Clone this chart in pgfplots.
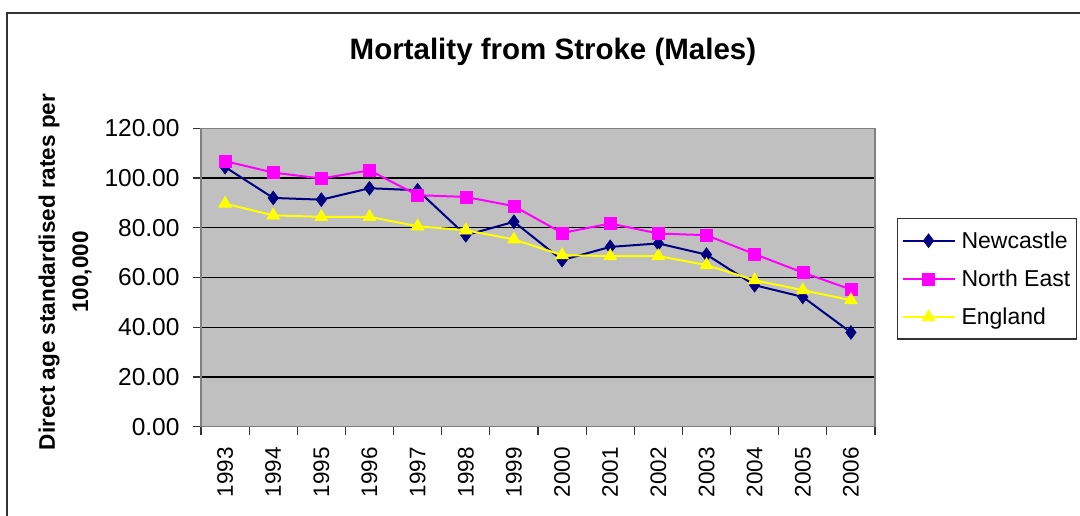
\documentclass[border=0pt]{standalone}
\usepackage{fontspec}
\setmainfont{Liberation Sans}
\usepackage{pgfplots}
\pgfplotsset{compat=1.18}
\definecolor{navyc}{HTML}{000080}
\definecolor{magc}{HTML}{FF00FF}
\definecolor{yelc}{HTML}{FFFF00}
\definecolor{bggray}{HTML}{C0C0C0}
\definecolor{axgray}{HTML}{808080}
\begin{document}
\begin{tikzpicture}[x=1pt,y=1pt]
\useasboundingbox (0,0) rectangle (1080,515);
\draw[line width=2pt, black!80] (7,-10) -- (7,502) -- (1100,502);
\node[font=\bfseries\fontsize{29.5}{34}\selectfont] at (553,463) {Mortality from Stroke (Males)};
\node[rotate=90, font=\bfseries\fontsize{22.5}{27}\selectfont] at (49,243) {Direct age standardised rates per};
\node[rotate=90, font=\bfseries\fontsize{22.5}{27}\selectfont] at (82,243) {100,000};
\begin{axis}[
  at={(201pt,88.3pt)}, anchor=south west, scale only axis,
  width=674pt, height=298.4pt,
  xmin=-0.5, xmax=13.5, ymin=0, ymax=120,
  axis background/.style={fill=bggray},
  axis line style={draw=axgray, line width=1.5pt},
  tick align=outside, tick pos=left, major tick length=8pt,
  tick style={black!80, line width=1.2pt},
  ytick={0,20,...,120},
  ymajorgrids, major grid style={black, line width=1.2pt},
  yticklabel shift=10pt,
  yticklabel style={font=\fontsize{24.5}{28}\selectfont, /pgf/number format/.cd, fixed, fixed zerofill, precision=2, assume math mode=true},
  xtick={0,1,2,3,4,5,6,7,8,9,10,11,12,13},
  xticklabels={1993,1994,1995,1996,1997,1998,1999,2000,2001,2002,2003,2004,2005,2006},
  xtick style={draw=none},
  xticklabel shift=9pt,
  xticklabel style={rotate=90, anchor=east, font=\fontsize{22.5}{26}\selectfont},
  extra x ticks={-0.5,0.5,1.5,2.5,3.5,4.5,5.5,6.5,7.5,8.5,9.5,10.5,11.5,12.5,13.5},
  extra x tick labels={{},{},{},{},{},{},{},{},{},{},{},{},{},{},{}},
  extra x tick style={xtick style={draw=black!80, line width=1.2pt}},
  legend style={at={(1.0326,0.6994)}, anchor=north west, draw=black!80, line width=1.2pt, fill=white,
    font=\fontsize{23}{27}\selectfont, row sep=16pt, column sep=4pt, inner xsep=4pt, inner ysep=11pt},
  legend cell align=left,
  legend image code/.code={\draw[#1, mark repeat=2, mark phase=2] plot coordinates {(0pt,0pt) (26pt,0pt) (52pt,0pt)};},
]
\addplot[color=navyc, line width=2pt, mark=diamond*, mark size=7pt, mark options={solid, fill=navyc, draw=navyc, line width=0.5pt}] coordinates {
(0,104.4) (1,92.0) (2,91.3) (3,95.9) (4,95.1) (5,77.0) (6,82.4) (7,67.0) (8,72.3) (9,73.7) (10,69.2) (11,56.9) (12,52.2) (13,37.9)};
\addlegendentry{Newcastle}
\addplot[color=magc, line width=2pt, mark=square*, mark size=6pt, mark options={solid, fill=magc, draw=magc, line width=0.5pt}] coordinates {
(0,106.8) (1,102.2) (2,99.8) (3,103.1) (4,93.1) (5,92.4) (6,88.7) (7,77.9) (8,81.7) (9,77.7) (10,77.0) (11,69.4) (12,62.0) (13,55.2)};
\addlegendentry{North East}
\addplot[color=yelc, line width=2pt, mark=triangle*, mark size=7.5pt, mark options={solid, fill=yelc, draw=yelc, line width=0.5pt}] coordinates {
(0,89.7) (1,85.0) (2,84.4) (3,84.4) (4,80.6) (5,79.0) (6,75.3) (7,69.0) (8,68.6) (9,68.6) (10,65.0) (11,58.9) (12,54.9) (13,50.9)};
\addlegendentry{England}
\end{axis}
\end{tikzpicture}
\end{document}
